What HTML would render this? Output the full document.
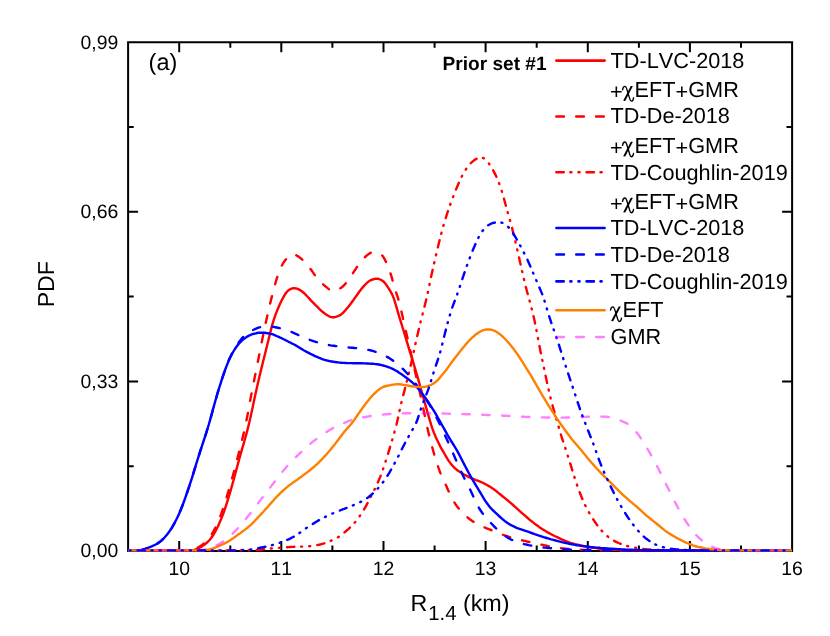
<!DOCTYPE html>
<html><head><meta charset="utf-8"><title>PDF of R1.4</title>
<style>
html,body{margin:0;padding:0;background:#fff;}
#c{position:relative;width:830px;height:636px;overflow:hidden;background:#fff;font-family:"Liberation Sans",sans-serif;color:#000;}
</style></head><body><div id="c">
<svg width="830" height="636" viewBox="0 0 830 636" style="position:absolute;left:0;top:0;will-change:transform">
<g stroke="#000" stroke-width="2" fill="none" stroke-linecap="butt">
<rect x="128.1" y="42.25" width="664.0" height="508.75"/>
<path d="M179.2,551.0 v-10 M179.2,42.25 v10 M230.3,551.0 v-5.6 M230.3,42.25 v5.6 M281.3,551.0 v-10 M281.3,42.25 v10 M332.4,551.0 v-5.6 M332.4,42.25 v5.6 M383.5,551.0 v-10 M383.5,42.25 v10 M434.6,551.0 v-5.6 M434.6,42.25 v5.6 M485.6,551.0 v-10 M485.6,42.25 v10 M536.7,551.0 v-5.6 M536.7,42.25 v5.6 M587.8,551.0 v-10 M587.8,42.25 v10 M638.9,551.0 v-5.6 M638.9,42.25 v5.6 M689.9,551.0 v-10 M689.9,42.25 v10 M741.0,551.0 v-5.6 M741.0,42.25 v5.6 M128.1,466.2 h5.6 M792.1,466.2 h-5.6 M128.1,381.4 h10 M792.1,381.4 h-10 M128.1,296.6 h5.6 M792.1,296.6 h-5.6 M128.1,211.8 h10 M792.1,211.8 h-10 M128.1,127.0 h5.6 M792.1,127.0 h-5.6"/>
</g>
<clipPath id="cp"><rect x="128.0" y="0" width="664.2" height="553.0"/></clipPath>
<g fill="none" stroke-linejoin="round" clip-path="url(#cp)">
<path d="M128.1,550.4 L129.6,550.4 L131.1,550.4 L132.6,550.4 L134.1,550.4 L135.6,550.4 L137.1,550.4 L138.6,550.4 L140.1,550.4 L141.6,550.4 L143.1,550.4 L144.6,550.4 L146.1,550.4 L147.6,550.4 L149.1,550.4 L150.6,550.4 L152.1,550.4 L153.6,550.4 L155.1,550.4 L156.6,550.4 L158.1,550.4 L159.6,550.4 L161.1,550.4 L162.6,550.4 L164.1,550.4 L165.6,550.4 L167.1,550.4 L168.6,550.4 L170.1,550.4 L171.6,550.4 L173.1,550.4 L174.6,550.4 L176.1,550.4 L177.6,550.4 L179.1,550.4 L180.6,550.4 L182.1,550.4 L183.6,550.4 L185.1,550.4 L186.6,550.4 L188.1,550.4 L189.6,550.3 L191.1,550.3 L192.6,550.2 L194.1,550.0 L195.6,549.5 L197.1,548.9 L198.6,548.2 L200.1,547.4 L201.6,546.6 L203.1,545.6 L204.6,544.5 L206.1,543.3 L207.6,542.0 L209.1,540.5 L210.6,538.8 L212.1,536.8 L213.6,534.5 L215.1,531.9 L216.6,529.0 L218.1,525.9 L219.6,522.6 L221.1,519.1 L222.6,515.4 L224.1,511.3 L225.6,506.8 L227.1,502.1 L228.6,497.3 L230.1,492.3 L231.6,487.2 L233.1,481.8 L234.6,476.3 L236.1,470.7 L237.6,465.1 L239.1,459.5 L240.6,454.1 L242.1,448.9 L243.6,443.8 L245.1,438.5 L246.6,433.1 L248.1,427.4 L249.6,421.2 L251.1,414.5 L252.6,407.4 L254.1,400.3 L255.6,393.4 L257.1,386.7 L258.6,380.2 L260.1,373.8 L261.6,367.6 L263.1,361.5 L264.6,355.5 L266.1,349.5 L267.6,343.5 L269.1,337.2 L270.6,331.1 L272.1,325.4 L273.6,320.3 L275.1,315.9 L276.6,311.9 L278.1,308.2 L279.6,304.7 L281.1,301.5 L282.6,298.6 L284.1,295.9 L285.6,293.5 L287.1,291.6 L288.6,290.2 L290.1,289.3 L291.6,288.6 L293.1,288.2 L294.6,288.2 L296.1,288.4 L297.6,288.9 L299.1,289.6 L300.6,290.4 L302.1,291.5 L303.6,292.7 L305.1,294.1 L306.6,295.7 L308.1,297.3 L309.6,298.9 L311.1,300.6 L312.6,302.2 L314.1,303.7 L315.6,305.2 L317.1,306.6 L318.6,308.1 L320.1,309.6 L321.6,311.0 L323.1,312.3 L324.6,313.5 L326.1,314.5 L327.6,315.5 L329.1,316.3 L330.6,316.9 L332.1,317.2 L333.6,317.3 L335.1,317.0 L336.6,316.6 L338.1,316.0 L339.6,315.4 L341.1,314.4 L342.6,313.2 L344.1,311.6 L345.6,310.0 L347.1,308.2 L348.6,306.4 L350.1,304.5 L351.6,302.5 L353.1,300.5 L354.6,298.4 L356.1,296.3 L357.6,294.2 L359.1,292.0 L360.6,290.0 L362.1,288.1 L363.6,286.4 L365.1,284.8 L366.6,283.2 L368.1,281.9 L369.6,280.8 L371.1,280.0 L372.6,279.5 L374.1,279.1 L375.6,278.8 L377.1,278.7 L378.6,278.9 L380.1,279.5 L381.6,280.2 L383.1,281.2 L384.6,282.7 L386.1,284.6 L387.6,286.8 L389.1,289.2 L390.6,291.6 L392.1,294.4 L393.6,297.9 L395.1,302.5 L396.6,307.6 L398.1,312.8 L399.6,317.8 L401.1,322.7 L402.6,327.5 L404.1,332.4 L405.6,337.3 L407.1,342.3 L408.6,347.3 L410.1,352.3 L411.6,357.2 L413.1,362.1 L414.6,367.0 L416.1,372.1 L417.6,377.2 L419.1,382.4 L420.6,387.8 L422.1,393.2 L423.6,398.6 L425.1,403.9 L426.6,409.1 L428.1,414.4 L429.6,419.7 L431.1,424.7 L432.6,429.2 L434.1,433.1 L435.6,436.7 L437.1,440.0 L438.6,443.1 L440.1,446.1 L441.6,448.8 L443.1,451.4 L444.6,454.0 L446.1,456.6 L447.6,459.1 L449.1,461.4 L450.6,463.4 L452.1,465.3 L453.6,466.9 L455.1,468.4 L456.6,469.7 L458.1,470.8 L459.6,471.7 L461.1,472.7 L462.6,473.6 L464.1,474.5 L465.6,475.3 L467.1,476.1 L468.6,476.9 L470.1,477.7 L471.6,478.3 L473.1,479.0 L474.6,479.5 L476.1,480.1 L477.6,480.6 L479.1,481.2 L480.6,481.8 L482.1,482.5 L483.6,483.2 L485.1,484.0 L486.6,484.8 L488.1,485.6 L489.6,486.5 L491.1,487.4 L492.6,488.4 L494.1,489.5 L495.6,490.6 L497.1,491.8 L498.6,493.1 L500.1,494.3 L501.6,495.5 L503.1,496.7 L504.6,497.9 L506.1,499.1 L507.6,500.3 L509.1,501.6 L510.6,502.9 L512.1,504.2 L513.6,505.5 L515.1,506.9 L516.6,508.2 L518.1,509.6 L519.6,510.9 L521.1,512.3 L522.6,513.6 L524.1,514.9 L525.6,516.2 L527.1,517.5 L528.6,518.8 L530.1,520.1 L531.6,521.3 L533.1,522.4 L534.6,523.6 L536.1,524.7 L537.6,525.8 L539.1,526.9 L540.6,527.9 L542.1,528.9 L543.6,529.9 L545.1,530.8 L546.6,531.7 L548.1,532.6 L549.6,533.4 L551.1,534.2 L552.6,535.0 L554.1,535.8 L555.6,536.5 L557.1,537.2 L558.6,537.9 L560.1,538.6 L561.6,539.3 L563.1,539.9 L564.6,540.6 L566.1,541.2 L567.6,541.8 L569.1,542.4 L570.6,542.9 L572.1,543.3 L573.6,543.7 L575.1,544.1 L576.6,544.4 L578.1,544.8 L579.6,545.1 L581.1,545.4 L582.6,545.8 L584.1,546.1 L585.6,546.4 L587.1,546.7 L588.6,547.0 L590.1,547.2 L591.6,547.5 L593.1,547.7 L594.6,547.9 L596.1,548.1 L597.6,548.3 L599.1,548.5 L600.6,548.7 L602.1,548.8 L603.6,549.0 L605.1,549.1 L606.6,549.3 L608.1,549.4 L609.6,549.5 L611.1,549.6 L612.6,549.7 L614.1,549.8 L615.6,549.9 L617.1,549.9 L618.6,550.0 L620.1,550.1 L621.6,550.2 L623.1,550.2 L624.6,550.3 L626.1,550.3 L627.6,550.4 L629.1,550.4 L630.6,550.4 L632.1,550.4 L633.6,550.4 L635.1,550.4 L636.6,550.4 L638.1,550.4 L639.6,550.4 L641.1,550.4 L642.6,550.4 L644.1,550.4 L645.6,550.4 L647.1,550.4 L648.6,550.4 L650.1,550.4 L651.6,550.4 L653.1,550.4 L654.6,550.4 L656.1,550.4 L657.6,550.4 L659.1,550.4 L660.6,550.4 L662.1,550.4 L663.6,550.4 L665.1,550.4 L666.6,550.4 L668.1,550.4 L669.6,550.4 L671.1,550.4 L672.6,550.4 L674.1,550.4 L675.6,550.4 L677.1,550.4 L678.6,550.4 L680.1,550.4 L681.6,550.4 L683.1,550.4 L684.6,550.4 L686.1,550.4 L687.6,550.4 L689.1,550.4 L690.6,550.4 L692.1,550.4 L693.6,550.4 L695.1,550.4 L696.6,550.4 L698.1,550.4 L699.6,550.4 L701.1,550.4 L702.6,550.4 L704.1,550.4 L705.6,550.4 L707.1,550.4 L708.6,550.4 L710.1,550.4 L711.6,550.4 L713.1,550.4 L714.6,550.4 L716.1,550.4 L717.6,550.4 L719.1,550.4 L720.6,550.4 L722.1,550.4 L723.6,550.4 L725.1,550.4 L726.6,550.4 L728.1,550.4 L729.6,550.4 L731.1,550.4 L732.6,550.4 L734.1,550.4 L735.6,550.4 L737.1,550.4 L738.6,550.4 L740.1,550.4 L741.6,550.4 L743.1,550.4 L744.6,550.4 L746.1,550.4 L747.6,550.4 L749.1,550.4 L750.6,550.4 L752.1,550.4 L753.6,550.4 L755.1,550.4 L756.6,550.4 L758.1,550.4 L759.6,550.4 L761.1,550.4 L762.6,550.4 L764.1,550.4 L765.6,550.4 L767.1,550.4 L768.6,550.4 L770.1,550.4 L771.6,550.4 L773.1,550.4 L774.6,550.4 L776.1,550.4 L777.6,550.4 L779.1,550.4 L780.6,550.4 L782.1,550.4 L783.6,550.4 L785.1,550.4 L786.6,550.4 L788.1,550.4 L789.6,550.4 L791.1,550.4" stroke="#ff0000" stroke-width="2.4" stroke-linecap="round"/>
<path d="M128.1,550.4 L129.6,550.4 L131.1,550.4 L132.6,550.4 L134.1,550.4 L135.6,550.4 L137.1,550.4 L138.6,550.4 L140.1,550.4 L141.6,550.4 L143.1,550.4 L144.6,550.4 L146.1,550.4 L147.6,550.4 L149.1,550.4 L150.6,550.4 L152.1,550.4 L153.6,550.4 L155.1,550.4 L156.6,550.4 L158.1,550.4 L159.6,550.4 L161.1,550.4 L162.6,550.4 L164.1,550.4 L165.6,550.4 L167.1,550.4 L168.6,550.4 L170.1,550.4 L171.6,550.4 L173.1,550.4 L174.6,550.4 L176.1,550.4 L177.6,550.4 L179.1,550.4 L180.6,550.4 L182.1,550.4 L183.6,550.4 L185.1,550.4 L186.6,550.4 L188.1,550.3 L189.6,550.3 L191.1,550.1 L192.6,549.8 L194.1,549.4 L195.6,548.7 L197.1,548.0 L198.6,547.1 L200.1,546.3 L201.6,545.3 L203.1,544.1 L204.6,542.9 L206.1,541.5 L207.6,539.9 L209.1,538.2 L210.6,536.1 L212.1,533.7 L213.6,531.0 L215.1,528.0 L216.6,524.8 L218.1,521.5 L219.6,517.9 L221.1,514.1 L222.6,509.8 L224.1,505.3 L225.6,500.5 L227.1,495.6 L228.6,490.6 L230.1,485.5 L231.6,480.2 L233.1,474.7 L234.6,469.1 L236.1,463.4 L237.6,457.6 L239.1,451.8 L240.6,445.9 L242.1,439.9 L243.6,433.6 L245.1,427.0 L246.6,419.7 L248.1,411.9 L249.6,403.7 L251.1,395.6 L252.6,387.9 L254.1,380.4 L255.6,372.9 L257.1,365.5 L258.6,357.9 L260.1,350.4 L261.6,342.9 L263.1,335.6 L264.6,328.3 L266.1,321.2 L267.6,314.3 L269.1,307.7 L270.6,301.6 L272.1,295.6 L273.6,289.8 L275.1,284.3 L276.6,279.2 L278.1,274.6 L279.6,270.5 L281.1,267.0 L282.6,264.2 L284.1,261.7 L285.6,259.7 L287.1,258.0 L288.6,256.6 L290.1,255.4 L291.6,254.5 L293.1,254.2 L294.6,254.5 L296.1,255.2 L297.6,256.1 L299.1,257.1 L300.6,258.2 L302.1,259.5 L303.6,261.0 L305.1,262.6 L306.6,264.2 L308.1,266.0 L309.6,267.8 L311.1,269.8 L312.6,271.9 L314.1,274.1 L315.6,276.2 L317.1,278.1 L318.6,279.8 L320.1,281.4 L321.6,282.9 L323.1,284.4 L324.6,285.7 L326.1,286.9 L327.6,288.1 L329.1,289.3 L330.6,290.2 L332.1,290.7 L333.6,290.8 L335.1,290.6 L336.6,290.2 L338.1,289.5 L339.6,288.7 L341.1,287.8 L342.6,286.7 L344.1,285.2 L345.6,283.4 L347.1,281.5 L348.6,279.5 L350.1,277.4 L351.6,275.2 L353.1,272.9 L354.6,270.6 L356.1,268.3 L357.6,266.2 L359.1,264.1 L360.6,262.1 L362.1,260.1 L363.6,258.4 L365.1,257.0 L366.6,255.6 L368.1,254.4 L369.6,253.4 L371.1,252.6 L372.6,252.2 L374.1,252.1 L375.6,252.3 L377.1,252.6 L378.6,253.1 L380.1,253.7 L381.6,254.7 L383.1,256.5 L384.6,259.1 L386.1,262.1 L387.6,265.5 L389.1,269.3 L390.6,273.7 L392.1,278.7 L393.6,284.2 L395.1,289.4 L396.6,293.8 L398.1,298.4 L399.6,304.0 L401.1,310.2 L402.6,316.6 L404.1,323.1 L405.6,329.8 L407.1,336.4 L408.6,343.0 L410.1,349.6 L411.6,356.2 L413.1,362.8 L414.6,369.4 L416.1,376.0 L417.6,382.6 L419.1,389.1 L420.6,395.7 L422.1,402.7 L423.6,410.0 L425.1,417.2 L426.6,424.3 L428.1,431.0 L429.6,437.3 L431.1,443.2 L432.6,448.7 L434.1,454.0 L435.6,458.9 L437.1,463.7 L438.6,468.2 L440.1,472.3 L441.6,475.9 L443.1,479.2 L444.6,482.3 L446.1,485.6 L447.6,489.0 L449.1,492.3 L450.6,495.5 L452.1,498.5 L453.6,501.2 L455.1,503.6 L456.6,505.8 L458.1,507.7 L459.6,509.5 L461.1,511.2 L462.6,512.8 L464.1,514.3 L465.6,515.7 L467.1,517.0 L468.6,518.3 L470.1,519.5 L471.6,520.5 L473.1,521.6 L474.6,522.5 L476.1,523.4 L477.6,524.2 L479.1,525.0 L480.6,525.8 L482.1,526.5 L483.6,527.1 L485.1,527.7 L486.6,528.3 L488.1,528.9 L489.6,529.5 L491.1,530.0 L492.6,530.7 L494.1,531.3 L495.6,531.9 L497.1,532.5 L498.6,533.1 L500.1,533.7 L501.6,534.2 L503.1,534.8 L504.6,535.3 L506.1,535.8 L507.6,536.3 L509.1,536.8 L510.6,537.3 L512.1,537.7 L513.6,538.1 L515.1,538.5 L516.6,538.9 L518.1,539.3 L519.6,539.7 L521.1,540.0 L522.6,540.4 L524.1,540.8 L525.6,541.1 L527.1,541.5 L528.6,541.8 L530.1,542.2 L531.6,542.5 L533.1,542.9 L534.6,543.2 L536.1,543.6 L537.6,543.9 L539.1,544.2 L540.6,544.5 L542.1,544.8 L543.6,545.1 L545.1,545.4 L546.6,545.7 L548.1,546.1 L549.6,546.4 L551.1,546.6 L552.6,546.9 L554.1,547.2 L555.6,547.4 L557.1,547.7 L558.6,547.9 L560.1,548.1 L561.6,548.3 L563.1,548.4 L564.6,548.6 L566.1,548.7 L567.6,548.9 L569.1,549.0 L570.6,549.1 L572.1,549.3 L573.6,549.4 L575.1,549.5 L576.6,549.6 L578.1,549.7 L579.6,549.7 L581.1,549.8 L582.6,549.9 L584.1,549.9 L585.6,550.0 L587.1,550.0 L588.6,550.1 L590.1,550.1 L591.6,550.1 L593.1,550.2 L594.6,550.2 L596.1,550.2 L597.6,550.3 L599.1,550.3 L600.6,550.3 L602.1,550.3 L603.6,550.3 L605.1,550.3 L606.6,550.3 L608.1,550.3 L609.6,550.3 L611.1,550.3 L612.6,550.3 L614.1,550.3 L615.6,550.4 L617.1,550.4 L618.6,550.4 L620.1,550.4 L621.6,550.4 L623.1,550.4 L624.6,550.4 L626.1,550.4 L627.6,550.4 L629.1,550.4 L630.6,550.4 L632.1,550.4 L633.6,550.4 L635.1,550.4 L636.6,550.4 L638.1,550.4 L639.6,550.4 L641.1,550.4 L642.6,550.4 L644.1,550.4 L645.6,550.4 L647.1,550.4 L648.6,550.4 L650.1,550.4 L651.6,550.4 L653.1,550.4 L654.6,550.4 L656.1,550.4 L657.6,550.4 L659.1,550.4 L660.6,550.4 L662.1,550.4 L663.6,550.4 L665.1,550.4 L666.6,550.4 L668.1,550.4 L669.6,550.4 L671.1,550.4 L672.6,550.4 L674.1,550.4 L675.6,550.4 L677.1,550.4 L678.6,550.4 L680.1,550.4 L681.6,550.4 L683.1,550.4 L684.6,550.4 L686.1,550.4 L687.6,550.4 L689.1,550.4 L690.6,550.4 L692.1,550.4 L693.6,550.4 L695.1,550.4 L696.6,550.4 L698.1,550.4 L699.6,550.4 L701.1,550.4 L702.6,550.4 L704.1,550.4 L705.6,550.4 L707.1,550.4 L708.6,550.4 L710.1,550.4 L711.6,550.4 L713.1,550.4 L714.6,550.4 L716.1,550.4 L717.6,550.4 L719.1,550.4 L720.6,550.4 L722.1,550.4 L723.6,550.4 L725.1,550.4 L726.6,550.4 L728.1,550.4 L729.6,550.4 L731.1,550.4 L732.6,550.4 L734.1,550.4 L735.6,550.4 L737.1,550.4 L738.6,550.4 L740.1,550.4 L741.6,550.4 L743.1,550.4 L744.6,550.4 L746.1,550.4 L747.6,550.4 L749.1,550.4 L750.6,550.4 L752.1,550.4 L753.6,550.4 L755.1,550.4 L756.6,550.4 L758.1,550.4 L759.6,550.4 L761.1,550.4 L762.6,550.4 L764.1,550.4 L765.6,550.4 L767.1,550.4 L768.6,550.4 L770.1,550.4 L771.6,550.4 L773.1,550.4 L774.6,550.4 L776.1,550.4 L777.6,550.4 L779.1,550.4 L780.6,550.4 L782.1,550.4 L783.6,550.4 L785.1,550.4 L786.6,550.4 L788.1,550.4 L789.6,550.4 L791.1,550.4" stroke="#ff0000" stroke-width="2.4" stroke-dasharray="7.55 12.33" stroke-dashoffset="9.5" stroke-linecap="round"/>
<path d="M128.1,550.4 L129.6,550.4 L131.1,550.4 L132.6,550.4 L134.1,550.4 L135.6,550.4 L137.1,550.4 L138.6,550.4 L140.1,550.4 L141.6,550.4 L143.1,550.4 L144.6,550.4 L146.1,550.4 L147.6,550.4 L149.1,550.4 L150.6,550.4 L152.1,550.4 L153.6,550.4 L155.1,550.4 L156.6,550.4 L158.1,550.4 L159.6,550.4 L161.1,550.4 L162.6,550.4 L164.1,550.4 L165.6,550.4 L167.1,550.4 L168.6,550.4 L170.1,550.4 L171.6,550.4 L173.1,550.4 L174.6,550.4 L176.1,550.4 L177.6,550.4 L179.1,550.4 L180.6,550.4 L182.1,550.4 L183.6,550.4 L185.1,550.4 L186.6,550.4 L188.1,550.4 L189.6,550.4 L191.1,550.4 L192.6,550.4 L194.1,550.4 L195.6,550.4 L197.1,550.4 L198.6,550.4 L200.1,550.4 L201.6,550.4 L203.1,550.4 L204.6,550.4 L206.1,550.4 L207.6,550.4 L209.1,550.4 L210.6,550.4 L212.1,550.4 L213.6,550.4 L215.1,550.4 L216.6,550.4 L218.1,550.4 L219.6,550.4 L221.1,550.4 L222.6,550.4 L224.1,550.4 L225.6,550.4 L227.1,550.4 L228.6,550.4 L230.1,550.4 L231.6,550.4 L233.1,550.4 L234.6,550.4 L236.1,550.4 L237.6,550.4 L239.1,550.4 L240.6,550.4 L242.1,550.4 L243.6,550.4 L245.1,550.3 L246.6,550.3 L248.1,550.3 L249.6,550.3 L251.1,550.3 L252.6,550.3 L254.1,550.2 L255.6,550.1 L257.1,550.0 L258.6,549.8 L260.1,549.7 L261.6,549.5 L263.1,549.3 L264.6,549.2 L266.1,549.0 L267.6,548.8 L269.1,548.7 L270.6,548.5 L272.1,548.4 L273.6,548.3 L275.1,548.1 L276.6,548.0 L278.1,547.9 L279.6,547.8 L281.1,547.6 L282.6,547.5 L284.1,547.4 L285.6,547.3 L287.1,547.2 L288.6,547.1 L290.1,547.0 L291.6,546.9 L293.1,546.9 L294.6,546.8 L296.1,546.8 L297.6,546.7 L299.1,546.7 L300.6,546.6 L302.1,546.6 L303.6,546.5 L305.1,546.5 L306.6,546.4 L308.1,546.3 L309.6,546.2 L311.1,546.0 L312.6,545.8 L314.1,545.6 L315.6,545.4 L317.1,545.1 L318.6,544.8 L320.1,544.5 L321.6,544.1 L323.1,543.7 L324.6,543.2 L326.1,542.7 L327.6,542.1 L329.1,541.5 L330.6,540.9 L332.1,540.2 L333.6,539.6 L335.1,538.9 L336.6,538.1 L338.1,537.2 L339.6,536.2 L341.1,535.2 L342.6,534.0 L344.1,532.8 L345.6,531.5 L347.1,530.1 L348.6,528.8 L350.1,527.4 L351.6,525.9 L353.1,524.4 L354.6,522.7 L356.1,521.0 L357.6,519.0 L359.1,517.0 L360.6,514.8 L362.1,512.5 L363.6,510.1 L365.1,507.6 L366.6,504.9 L368.1,502.1 L369.6,499.1 L371.1,496.1 L372.6,493.2 L374.1,490.4 L375.6,487.4 L377.1,484.1 L378.6,480.6 L380.1,477.1 L381.6,473.2 L383.1,469.0 L384.6,464.5 L386.1,459.8 L387.6,455.1 L389.1,450.3 L390.6,445.3 L392.1,440.3 L393.6,435.2 L395.1,429.9 L396.6,424.2 L398.1,417.6 L399.6,410.4 L401.1,403.7 L402.6,397.7 L404.1,392.0 L405.6,386.2 L407.1,380.4 L408.6,374.4 L410.1,368.1 L411.6,361.4 L413.1,354.6 L414.6,347.8 L416.1,341.0 L417.6,334.4 L419.1,327.9 L420.6,321.7 L422.1,315.8 L423.6,310.0 L425.1,304.2 L426.6,298.0 L428.1,291.1 L429.6,283.9 L431.1,276.7 L432.6,269.9 L434.1,263.3 L435.6,256.9 L437.1,250.6 L438.6,244.3 L440.1,238.2 L441.6,232.3 L443.1,226.8 L444.6,221.6 L446.1,216.8 L447.6,212.2 L449.1,207.8 L450.6,203.5 L452.1,199.5 L453.6,195.6 L455.1,191.8 L456.6,188.1 L458.1,184.5 L459.6,181.1 L461.1,177.9 L462.6,175.0 L464.1,172.2 L465.6,169.8 L467.1,167.6 L468.6,165.6 L470.1,163.9 L471.6,162.4 L473.1,161.1 L474.6,159.9 L476.1,159.0 L477.6,158.3 L479.1,157.7 L480.6,157.4 L482.1,157.6 L483.6,158.2 L485.1,159.2 L486.6,160.6 L488.1,162.4 L489.6,164.5 L491.1,166.8 L492.6,169.3 L494.1,172.1 L495.6,175.1 L497.1,178.4 L498.6,182.0 L500.1,186.1 L501.6,190.6 L503.1,195.7 L504.6,201.0 L506.1,206.6 L507.6,212.1 L509.1,217.3 L510.6,222.5 L512.1,228.1 L513.6,234.1 L515.1,240.3 L516.6,246.8 L518.1,253.4 L519.6,260.1 L521.1,266.8 L522.6,273.5 L524.1,279.9 L525.6,286.0 L527.1,291.8 L528.6,297.4 L530.1,302.8 L531.6,308.3 L533.1,314.2 L534.6,321.0 L536.1,328.5 L537.6,336.4 L539.1,344.3 L540.6,351.9 L542.1,359.2 L543.6,366.4 L545.1,373.5 L546.6,380.5 L548.1,387.4 L549.6,394.0 L551.1,400.2 L552.6,405.8 L554.1,411.1 L555.6,416.2 L557.1,421.4 L558.6,426.7 L560.1,431.9 L561.6,436.8 L563.1,441.3 L564.6,445.9 L566.1,450.5 L567.6,455.2 L569.1,459.9 L570.6,464.7 L572.1,469.6 L573.6,474.4 L575.1,479.2 L576.6,483.7 L578.1,488.0 L579.6,492.1 L581.1,495.9 L582.6,499.6 L584.1,503.0 L585.6,506.1 L587.1,509.0 L588.6,511.8 L590.1,514.3 L591.6,516.8 L593.1,519.1 L594.6,521.4 L596.1,523.6 L597.6,525.7 L599.1,527.7 L600.6,529.5 L602.1,531.2 L603.6,532.7 L605.1,534.2 L606.6,535.6 L608.1,536.8 L609.6,538.0 L611.1,539.0 L612.6,540.0 L614.1,540.8 L615.6,541.6 L617.1,542.3 L618.6,543.0 L620.1,543.6 L621.6,544.2 L623.1,544.8 L624.6,545.3 L626.1,545.7 L627.6,546.1 L629.1,546.5 L630.6,546.8 L632.1,547.1 L633.6,547.4 L635.1,547.7 L636.6,547.9 L638.1,548.2 L639.6,548.4 L641.1,548.6 L642.6,548.8 L644.1,549.0 L645.6,549.1 L647.1,549.3 L648.6,549.4 L650.1,549.5 L651.6,549.6 L653.1,549.7 L654.6,549.8 L656.1,549.9 L657.6,550.0 L659.1,550.1 L660.6,550.1 L662.1,550.2 L663.6,550.3 L665.1,550.3 L666.6,550.3 L668.1,550.4 L669.6,550.4 L671.1,550.4 L672.6,550.4 L674.1,550.4 L675.6,550.4 L677.1,550.4 L678.6,550.4 L680.1,550.4 L681.6,550.4 L683.1,550.4 L684.6,550.4 L686.1,550.4 L687.6,550.4 L689.1,550.4 L690.6,550.4 L692.1,550.4 L693.6,550.4 L695.1,550.4 L696.6,550.4 L698.1,550.4 L699.6,550.4 L701.1,550.4 L702.6,550.4 L704.1,550.4 L705.6,550.4 L707.1,550.4 L708.6,550.4 L710.1,550.4 L711.6,550.4 L713.1,550.4 L714.6,550.4 L716.1,550.4 L717.6,550.4 L719.1,550.4 L720.6,550.4 L722.1,550.4 L723.6,550.4 L725.1,550.4 L726.6,550.4 L728.1,550.4 L729.6,550.4 L731.1,550.4 L732.6,550.4 L734.1,550.4 L735.6,550.4 L737.1,550.4 L738.6,550.4 L740.1,550.4 L741.6,550.4 L743.1,550.4 L744.6,550.4 L746.1,550.4 L747.6,550.4 L749.1,550.4 L750.6,550.4 L752.1,550.4 L753.6,550.4 L755.1,550.4 L756.6,550.4 L758.1,550.4 L759.6,550.4 L761.1,550.4 L762.6,550.4 L764.1,550.4 L765.6,550.4 L767.1,550.4 L768.6,550.4 L770.1,550.4 L771.6,550.4 L773.1,550.4 L774.6,550.4 L776.1,550.4 L777.6,550.4 L779.1,550.4 L780.6,550.4 L782.1,550.4 L783.6,550.4 L785.1,550.4 L786.6,550.4 L788.1,550.4 L789.6,550.4 L791.1,550.4" stroke="#ff0000" stroke-width="2.4" stroke-dasharray="7.34 6.73 1.00 7.14 1.00 7.14" stroke-dashoffset="23.0" stroke-linecap="round"/>
<path d="M128.1,550.4 L129.6,550.4 L131.1,550.4 L132.6,550.4 L134.1,550.4 L135.6,550.4 L137.1,550.3 L138.6,550.2 L140.1,550.1 L141.6,549.9 L143.1,549.5 L144.6,549.1 L146.1,548.5 L147.6,548.0 L149.1,547.4 L150.6,546.8 L152.1,546.2 L153.6,545.5 L155.1,544.8 L156.6,544.0 L158.1,543.1 L159.6,542.1 L161.1,540.9 L162.6,539.5 L164.1,538.0 L165.6,536.3 L167.1,534.4 L168.6,532.5 L170.1,530.4 L171.6,528.1 L173.1,525.6 L174.6,522.9 L176.1,520.0 L177.6,516.9 L179.1,513.7 L180.6,510.2 L182.1,506.5 L183.6,502.5 L185.1,498.3 L186.6,494.0 L188.1,489.6 L189.6,485.2 L191.1,480.6 L192.6,475.8 L194.1,470.9 L195.6,466.0 L197.1,461.1 L198.6,456.3 L200.1,451.6 L201.6,447.0 L203.1,442.5 L204.6,437.9 L206.1,433.3 L207.6,428.5 L209.1,423.5 L210.6,418.2 L212.1,412.7 L213.6,407.1 L215.1,401.7 L216.6,396.5 L218.1,391.4 L219.6,386.5 L221.1,381.8 L222.6,377.2 L224.1,372.8 L225.6,368.5 L227.1,364.6 L228.6,361.0 L230.1,357.8 L231.6,354.8 L233.1,352.0 L234.6,349.5 L236.1,347.3 L237.6,345.3 L239.1,343.5 L240.6,341.9 L242.1,340.4 L243.6,339.1 L245.1,338.0 L246.6,337.0 L248.1,336.1 L249.6,335.3 L251.1,334.7 L252.6,334.2 L254.1,333.7 L255.6,333.4 L257.1,333.0 L258.6,332.8 L260.1,332.7 L261.6,332.6 L263.1,332.7 L264.6,332.8 L266.1,333.0 L267.6,333.2 L269.1,333.4 L270.6,333.8 L272.1,334.2 L273.6,334.7 L275.1,335.3 L276.6,336.0 L278.1,336.6 L279.6,337.3 L281.1,338.0 L282.6,338.7 L284.1,339.5 L285.6,340.2 L287.1,341.0 L288.6,341.8 L290.1,342.5 L291.6,343.3 L293.1,344.0 L294.6,344.8 L296.1,345.6 L297.6,346.5 L299.1,347.4 L300.6,348.4 L302.1,349.3 L303.6,350.2 L305.1,351.0 L306.6,351.9 L308.1,352.6 L309.6,353.4 L311.1,354.2 L312.6,354.9 L314.1,355.6 L315.6,356.3 L317.1,356.9 L318.6,357.6 L320.1,358.2 L321.6,358.8 L323.1,359.4 L324.6,359.9 L326.1,360.3 L327.6,360.6 L329.1,361.0 L330.6,361.3 L332.1,361.5 L333.6,361.8 L335.1,362.0 L336.6,362.2 L338.1,362.4 L339.6,362.6 L341.1,362.7 L342.6,362.9 L344.1,362.9 L345.6,363.0 L347.1,363.1 L348.6,363.1 L350.1,363.1 L351.6,363.1 L353.1,363.2 L354.6,363.2 L356.1,363.2 L357.6,363.2 L359.1,363.3 L360.6,363.3 L362.1,363.3 L363.6,363.4 L365.1,363.4 L366.6,363.5 L368.1,363.5 L369.6,363.6 L371.1,363.7 L372.6,363.8 L374.1,363.9 L375.6,364.1 L377.1,364.3 L378.6,364.5 L380.1,364.8 L381.6,365.1 L383.1,365.5 L384.6,365.9 L386.1,366.3 L387.6,366.8 L389.1,367.4 L390.6,368.0 L392.1,368.7 L393.6,369.4 L395.1,370.2 L396.6,371.0 L398.1,371.9 L399.6,372.9 L401.1,373.9 L402.6,375.0 L404.1,376.1 L405.6,377.2 L407.1,378.3 L408.6,379.4 L410.1,380.6 L411.6,381.9 L413.1,383.2 L414.6,384.6 L416.1,386.2 L417.6,387.9 L419.1,389.7 L420.6,391.6 L422.1,393.5 L423.6,395.5 L425.1,397.5 L426.6,399.6 L428.1,401.8 L429.6,404.1 L431.1,406.4 L432.6,408.8 L434.1,411.2 L435.6,413.7 L437.1,416.3 L438.6,419.0 L440.1,421.7 L441.6,424.3 L443.1,427.0 L444.6,429.7 L446.1,432.4 L447.6,435.0 L449.1,437.6 L450.6,440.1 L452.1,442.5 L453.6,444.9 L455.1,447.3 L456.6,449.8 L458.1,452.6 L459.6,455.4 L461.1,458.3 L462.6,461.2 L464.1,464.1 L465.6,467.0 L467.1,469.9 L468.6,472.7 L470.1,475.4 L471.6,478.0 L473.1,480.6 L474.6,483.2 L476.1,485.7 L477.6,488.1 L479.1,490.6 L480.6,493.0 L482.1,495.6 L483.6,498.2 L485.1,500.6 L486.6,502.8 L488.1,504.8 L489.6,506.7 L491.1,508.4 L492.6,510.0 L494.1,511.4 L495.6,512.8 L497.1,514.2 L498.6,515.6 L500.1,517.0 L501.6,518.3 L503.1,519.6 L504.6,520.9 L506.1,522.0 L507.6,523.0 L509.1,524.0 L510.6,524.9 L512.1,525.7 L513.6,526.4 L515.1,527.1 L516.6,527.8 L518.1,528.4 L519.6,528.9 L521.1,529.4 L522.6,529.9 L524.1,530.4 L525.6,530.9 L527.1,531.4 L528.6,531.9 L530.1,532.5 L531.6,533.0 L533.1,533.5 L534.6,534.1 L536.1,534.6 L537.6,535.1 L539.1,535.6 L540.6,536.1 L542.1,536.6 L543.6,537.1 L545.1,537.5 L546.6,538.0 L548.1,538.4 L549.6,538.8 L551.1,539.3 L552.6,539.7 L554.1,540.1 L555.6,540.5 L557.1,540.9 L558.6,541.3 L560.1,541.7 L561.6,542.1 L563.1,542.4 L564.6,542.8 L566.1,543.1 L567.6,543.4 L569.1,543.7 L570.6,544.0 L572.1,544.3 L573.6,544.6 L575.1,544.9 L576.6,545.2 L578.1,545.4 L579.6,545.6 L581.1,545.9 L582.6,546.1 L584.1,546.2 L585.6,546.4 L587.1,546.6 L588.6,546.8 L590.1,547.0 L591.6,547.1 L593.1,547.3 L594.6,547.4 L596.1,547.6 L597.6,547.7 L599.1,547.8 L600.6,548.0 L602.1,548.1 L603.6,548.2 L605.1,548.3 L606.6,548.4 L608.1,548.5 L609.6,548.6 L611.1,548.7 L612.6,548.8 L614.1,548.9 L615.6,549.0 L617.1,549.1 L618.6,549.2 L620.1,549.3 L621.6,549.4 L623.1,549.4 L624.6,549.5 L626.1,549.6 L627.6,549.6 L629.1,549.7 L630.6,549.7 L632.1,549.8 L633.6,549.9 L635.1,549.9 L636.6,550.0 L638.1,550.0 L639.6,550.1 L641.1,550.1 L642.6,550.2 L644.1,550.2 L645.6,550.2 L647.1,550.3 L648.6,550.3 L650.1,550.3 L651.6,550.3 L653.1,550.3 L654.6,550.3 L656.1,550.3 L657.6,550.3 L659.1,550.3 L660.6,550.3 L662.1,550.3 L663.6,550.3 L665.1,550.3 L666.6,550.4 L668.1,550.4 L669.6,550.4 L671.1,550.4 L672.6,550.4 L674.1,550.4 L675.6,550.4 L677.1,550.4 L678.6,550.4 L680.1,550.4 L681.6,550.4 L683.1,550.4 L684.6,550.4 L686.1,550.4 L687.6,550.4 L689.1,550.4 L690.6,550.4 L692.1,550.4 L693.6,550.4 L695.1,550.4 L696.6,550.4 L698.1,550.4 L699.6,550.4 L701.1,550.4 L702.6,550.4 L704.1,550.4 L705.6,550.4 L707.1,550.4 L708.6,550.4 L710.1,550.4 L711.6,550.4 L713.1,550.4 L714.6,550.4 L716.1,550.4 L717.6,550.4 L719.1,550.4 L720.6,550.4 L722.1,550.4 L723.6,550.4 L725.1,550.4 L726.6,550.4 L728.1,550.4 L729.6,550.4 L731.1,550.4 L732.6,550.4 L734.1,550.4 L735.6,550.4 L737.1,550.4 L738.6,550.4 L740.1,550.4 L741.6,550.4 L743.1,550.4 L744.6,550.4 L746.1,550.4 L747.6,550.4 L749.1,550.4 L750.6,550.4 L752.1,550.4 L753.6,550.4 L755.1,550.4 L756.6,550.4 L758.1,550.4 L759.6,550.4 L761.1,550.4 L762.6,550.4 L764.1,550.4 L765.6,550.4 L767.1,550.4 L768.6,550.4 L770.1,550.4 L771.6,550.4 L773.1,550.4 L774.6,550.4 L776.1,550.4 L777.6,550.4 L779.1,550.4 L780.6,550.4 L782.1,550.4 L783.6,550.4 L785.1,550.4 L786.6,550.4 L788.1,550.4 L789.6,550.4 L791.1,550.4" stroke="#0000ff" stroke-width="2.4" stroke-linecap="round"/>
<path d="M128.1,550.4 L129.6,550.4 L131.1,550.4 L132.6,550.4 L134.1,550.4 L135.6,550.4 L137.1,550.3 L138.6,550.2 L140.1,550.1 L141.6,549.9 L143.1,549.5 L144.6,549.1 L146.1,548.5 L147.6,548.0 L149.1,547.4 L150.6,546.8 L152.1,546.2 L153.6,545.5 L155.1,544.8 L156.6,544.0 L158.1,543.1 L159.6,542.1 L161.1,540.9 L162.6,539.5 L164.1,538.0 L165.6,536.3 L167.1,534.4 L168.6,532.5 L170.1,530.4 L171.6,528.1 L173.1,525.6 L174.6,522.9 L176.1,520.0 L177.6,516.9 L179.1,513.7 L180.6,510.2 L182.1,506.5 L183.6,502.5 L185.1,498.3 L186.6,494.0 L188.1,489.6 L189.6,485.2 L191.1,480.6 L192.6,475.8 L194.1,470.9 L195.6,466.0 L197.1,461.1 L198.6,456.3 L200.1,451.6 L201.6,447.0 L203.1,442.5 L204.6,437.9 L206.1,433.3 L207.6,428.5 L209.1,423.5 L210.6,418.2 L212.1,412.7 L213.6,407.1 L215.1,401.7 L216.6,396.5 L218.1,391.4 L219.6,386.5 L221.1,381.7 L222.6,377.1 L224.1,372.6 L225.6,368.3 L227.1,364.2 L228.6,360.6 L230.1,357.2 L231.6,354.2 L233.1,351.4 L234.6,348.8 L236.1,346.4 L237.6,344.1 L239.1,342.0 L240.6,339.9 L242.1,338.1 L243.6,336.4 L245.1,335.0 L246.6,333.8 L248.1,332.7 L249.6,331.8 L251.1,331.0 L252.6,330.2 L254.1,329.5 L255.6,328.8 L257.1,328.2 L258.6,327.6 L260.1,327.2 L261.6,326.9 L263.1,326.8 L264.6,326.6 L266.1,326.5 L267.6,326.4 L269.1,326.4 L270.6,326.5 L272.1,326.7 L273.6,326.9 L275.1,327.2 L276.6,327.5 L278.1,327.8 L279.6,328.1 L281.1,328.5 L282.6,328.9 L284.1,329.4 L285.6,329.8 L287.1,330.3 L288.6,330.9 L290.1,331.4 L291.6,332.0 L293.1,332.7 L294.6,333.3 L296.1,334.0 L297.6,334.7 L299.1,335.4 L300.6,336.1 L302.1,336.7 L303.6,337.4 L305.1,338.0 L306.6,338.6 L308.1,339.2 L309.6,339.8 L311.1,340.3 L312.6,340.8 L314.1,341.3 L315.6,341.8 L317.1,342.3 L318.6,342.7 L320.1,343.2 L321.6,343.6 L323.1,344.0 L324.6,344.3 L326.1,344.6 L327.6,344.9 L329.1,345.1 L330.6,345.4 L332.1,345.6 L333.6,345.8 L335.1,346.0 L336.6,346.2 L338.1,346.4 L339.6,346.6 L341.1,346.8 L342.6,346.9 L344.1,347.1 L345.6,347.2 L347.1,347.4 L348.6,347.5 L350.1,347.6 L351.6,347.7 L353.1,347.8 L354.6,348.0 L356.1,348.1 L357.6,348.3 L359.1,348.4 L360.6,348.6 L362.1,348.8 L363.6,349.0 L365.1,349.2 L366.6,349.5 L368.1,349.8 L369.6,350.1 L371.1,350.5 L372.6,350.9 L374.1,351.3 L375.6,351.8 L377.1,352.3 L378.6,352.8 L380.1,353.4 L381.6,354.0 L383.1,354.7 L384.6,355.4 L386.1,356.2 L387.6,357.1 L389.1,358.0 L390.6,359.0 L392.1,360.0 L393.6,361.1 L395.1,362.2 L396.6,363.4 L398.1,364.6 L399.6,365.9 L401.1,367.3 L402.6,368.7 L404.1,370.1 L405.6,371.7 L407.1,373.3 L408.6,374.9 L410.1,376.7 L411.6,378.5 L413.1,380.4 L414.6,382.3 L416.1,384.3 L417.6,386.4 L419.1,388.6 L420.6,390.8 L422.1,393.1 L423.6,395.4 L425.1,397.7 L426.6,400.1 L428.1,402.5 L429.6,404.9 L431.1,407.5 L432.6,410.1 L434.1,412.9 L435.6,415.8 L437.1,418.7 L438.6,421.7 L440.1,424.8 L441.6,428.0 L443.1,431.2 L444.6,434.5 L446.1,437.7 L447.6,441.0 L449.1,444.4 L450.6,447.8 L452.1,451.2 L453.6,454.6 L455.1,458.0 L456.6,461.4 L458.1,464.8 L459.6,468.2 L461.1,471.5 L462.6,474.7 L464.1,477.8 L465.6,480.8 L467.1,483.7 L468.6,486.7 L470.1,489.6 L471.6,492.7 L473.1,495.9 L474.6,499.1 L476.1,502.3 L477.6,505.3 L479.1,508.1 L480.6,510.5 L482.1,512.7 L483.6,514.6 L485.1,516.5 L486.6,518.2 L488.1,519.9 L489.6,521.6 L491.1,523.2 L492.6,524.8 L494.1,526.4 L495.6,527.9 L497.1,529.4 L498.6,530.8 L500.1,532.1 L501.6,533.3 L503.1,534.5 L504.6,535.6 L506.1,536.6 L507.6,537.6 L509.1,538.5 L510.6,539.3 L512.1,540.0 L513.6,540.7 L515.1,541.3 L516.6,541.9 L518.1,542.4 L519.6,542.9 L521.1,543.3 L522.6,543.7 L524.1,544.1 L525.6,544.4 L527.1,544.7 L528.6,545.1 L530.1,545.4 L531.6,545.7 L533.1,545.9 L534.6,546.2 L536.1,546.4 L537.6,546.7 L539.1,546.9 L540.6,547.1 L542.1,547.3 L543.6,547.5 L545.1,547.6 L546.6,547.8 L548.1,548.0 L549.6,548.1 L551.1,548.3 L552.6,548.4 L554.1,548.6 L555.6,548.7 L557.1,548.8 L558.6,548.9 L560.1,549.0 L561.6,549.1 L563.1,549.2 L564.6,549.3 L566.1,549.4 L567.6,549.5 L569.1,549.5 L570.6,549.6 L572.1,549.7 L573.6,549.8 L575.1,549.8 L576.6,549.9 L578.1,550.0 L579.6,550.0 L581.1,550.1 L582.6,550.1 L584.1,550.2 L585.6,550.2 L587.1,550.3 L588.6,550.3 L590.1,550.3 L591.6,550.3 L593.1,550.3 L594.6,550.3 L596.1,550.3 L597.6,550.3 L599.1,550.3 L600.6,550.3 L602.1,550.3 L603.6,550.3 L605.1,550.3 L606.6,550.4 L608.1,550.4 L609.6,550.4 L611.1,550.4 L612.6,550.4 L614.1,550.4 L615.6,550.4 L617.1,550.4 L618.6,550.4 L620.1,550.4 L621.6,550.4 L623.1,550.4 L624.6,550.4 L626.1,550.4 L627.6,550.4 L629.1,550.4 L630.6,550.4 L632.1,550.4 L633.6,550.4 L635.1,550.4 L636.6,550.4 L638.1,550.4 L639.6,550.4 L641.1,550.4 L642.6,550.4 L644.1,550.4 L645.6,550.4 L647.1,550.4 L648.6,550.4 L650.1,550.4 L651.6,550.4 L653.1,550.4 L654.6,550.4 L656.1,550.4 L657.6,550.4 L659.1,550.4 L660.6,550.4 L662.1,550.4 L663.6,550.4 L665.1,550.4 L666.6,550.4 L668.1,550.4 L669.6,550.4 L671.1,550.4 L672.6,550.4 L674.1,550.4 L675.6,550.4 L677.1,550.4 L678.6,550.4 L680.1,550.4 L681.6,550.4 L683.1,550.4 L684.6,550.4 L686.1,550.4 L687.6,550.4 L689.1,550.4 L690.6,550.4 L692.1,550.4 L693.6,550.4 L695.1,550.4 L696.6,550.4 L698.1,550.4 L699.6,550.4 L701.1,550.4 L702.6,550.4 L704.1,550.4 L705.6,550.4 L707.1,550.4 L708.6,550.4 L710.1,550.4 L711.6,550.4 L713.1,550.4 L714.6,550.4 L716.1,550.4 L717.6,550.4 L719.1,550.4 L720.6,550.4 L722.1,550.4 L723.6,550.4 L725.1,550.4 L726.6,550.4 L728.1,550.4 L729.6,550.4 L731.1,550.4 L732.6,550.4 L734.1,550.4 L735.6,550.4 L737.1,550.4 L738.6,550.4 L740.1,550.4 L741.6,550.4 L743.1,550.4 L744.6,550.4 L746.1,550.4 L747.6,550.4 L749.1,550.4 L750.6,550.4 L752.1,550.4 L753.6,550.4 L755.1,550.4 L756.6,550.4 L758.1,550.4 L759.6,550.4 L761.1,550.4 L762.6,550.4 L764.1,550.4 L765.6,550.4 L767.1,550.4 L768.6,550.4 L770.1,550.4 L771.6,550.4 L773.1,550.4 L774.6,550.4 L776.1,550.4 L777.6,550.4 L779.1,550.4 L780.6,550.4 L782.1,550.4 L783.6,550.4 L785.1,550.4 L786.6,550.4 L788.1,550.4 L789.6,550.4 L791.1,550.4" stroke="#0000ff" stroke-width="2.4" stroke-dasharray="7.55 12.33" stroke-dashoffset="9.2" stroke-linecap="round"/>
<path d="M128.1,550.4 L129.6,550.4 L131.1,550.4 L132.6,550.4 L134.1,550.4 L135.6,550.4 L137.1,550.4 L138.6,550.4 L140.1,550.4 L141.6,550.4 L143.1,550.4 L144.6,550.4 L146.1,550.4 L147.6,550.4 L149.1,550.4 L150.6,550.4 L152.1,550.4 L153.6,550.4 L155.1,550.4 L156.6,550.4 L158.1,550.4 L159.6,550.4 L161.1,550.4 L162.6,550.4 L164.1,550.4 L165.6,550.4 L167.1,550.4 L168.6,550.4 L170.1,550.4 L171.6,550.4 L173.1,550.4 L174.6,550.4 L176.1,550.4 L177.6,550.4 L179.1,550.4 L180.6,550.4 L182.1,550.4 L183.6,550.4 L185.1,550.4 L186.6,550.4 L188.1,550.4 L189.6,550.4 L191.1,550.4 L192.6,550.4 L194.1,550.4 L195.6,550.4 L197.1,550.4 L198.6,550.4 L200.1,550.3 L201.6,550.3 L203.1,550.2 L204.6,550.1 L206.1,549.9 L207.6,549.7 L209.1,549.5 L210.6,549.1 L212.1,548.7 L213.6,548.2 L215.1,547.6 L216.6,547.0 L218.1,546.4 L219.6,545.7 L221.1,545.1 L222.6,544.4 L224.1,543.6 L225.6,542.9 L227.1,542.1 L228.6,541.2 L230.1,540.3 L231.6,539.3 L233.1,538.3 L234.6,537.2 L236.1,536.1 L237.6,535.0 L239.1,533.9 L240.6,532.9 L242.1,531.8 L243.6,530.7 L245.1,529.6 L246.6,528.4 L248.1,527.2 L249.6,525.9 L251.1,524.6 L252.6,523.1 L254.1,521.6 L255.6,520.0 L257.1,518.4 L258.6,516.8 L260.1,515.2 L261.6,513.6 L263.1,512.0 L264.6,510.3 L266.1,508.6 L267.6,507.0 L269.1,505.3 L270.6,503.6 L272.1,501.9 L273.6,500.2 L275.1,498.5 L276.6,496.9 L278.1,495.3 L279.6,493.8 L281.1,492.4 L282.6,491.0 L284.1,489.6 L285.6,488.3 L287.1,487.1 L288.6,485.8 L290.1,484.7 L291.6,483.6 L293.1,482.5 L294.6,481.5 L296.1,480.4 L297.6,479.4 L299.1,478.3 L300.6,477.2 L302.1,476.1 L303.6,475.0 L305.1,473.9 L306.6,472.8 L308.1,471.6 L309.6,470.5 L311.1,469.3 L312.6,468.0 L314.1,466.8 L315.6,465.4 L317.1,464.1 L318.6,462.6 L320.1,461.1 L321.6,459.6 L323.1,458.0 L324.6,456.4 L326.1,454.8 L327.6,453.0 L329.1,451.3 L330.6,449.5 L332.1,447.6 L333.6,445.7 L335.1,443.9 L336.6,441.9 L338.1,440.0 L339.6,438.0 L341.1,436.0 L342.6,434.0 L344.1,432.1 L345.6,430.3 L347.1,428.6 L348.6,426.9 L350.1,425.2 L351.6,423.4 L353.1,421.5 L354.6,419.4 L356.1,417.2 L357.6,415.0 L359.1,412.9 L360.6,410.7 L362.1,408.6 L363.6,406.5 L365.1,404.5 L366.6,402.5 L368.1,400.7 L369.6,398.8 L371.1,397.1 L372.6,395.4 L374.1,393.9 L375.6,392.5 L377.1,391.1 L378.6,389.9 L380.1,388.7 L381.6,387.8 L383.1,387.0 L384.6,386.5 L386.1,386.0 L387.6,385.7 L389.1,385.4 L390.6,385.1 L392.1,384.8 L393.6,384.6 L395.1,384.4 L396.6,384.3 L398.1,384.2 L399.6,384.3 L401.1,384.5 L402.6,384.6 L404.1,384.9 L405.6,385.1 L407.1,385.4 L408.6,385.7 L410.1,386.0 L411.6,386.2 L413.1,386.5 L414.6,386.6 L416.1,386.8 L417.6,386.9 L419.1,387.0 L420.6,387.1 L422.1,387.1 L423.6,386.9 L425.1,386.7 L426.6,386.4 L428.1,386.0 L429.6,385.5 L431.1,384.8 L432.6,384.0 L434.1,383.1 L435.6,382.0 L437.1,380.6 L438.6,379.1 L440.1,377.4 L441.6,375.6 L443.1,373.8 L444.6,372.0 L446.1,370.0 L447.6,368.0 L449.1,365.9 L450.6,363.8 L452.1,361.7 L453.6,359.7 L455.1,357.8 L456.6,355.9 L458.1,354.0 L459.6,352.1 L461.1,350.1 L462.6,348.2 L464.1,346.4 L465.6,344.6 L467.1,342.9 L468.6,341.3 L470.1,339.7 L471.6,338.2 L473.1,336.8 L474.6,335.5 L476.1,334.3 L477.6,333.2 L479.1,332.2 L480.6,331.4 L482.1,330.7 L483.6,330.1 L485.1,329.7 L486.6,329.5 L488.1,329.4 L489.6,329.5 L491.1,329.7 L492.6,330.1 L494.1,330.6 L495.6,331.3 L497.1,332.2 L498.6,333.2 L500.1,334.4 L501.6,335.7 L503.1,337.0 L504.6,338.5 L506.1,340.0 L507.6,341.7 L509.1,343.4 L510.6,345.2 L512.1,347.1 L513.6,349.0 L515.1,351.0 L516.6,353.1 L518.1,355.3 L519.6,357.5 L521.1,359.8 L522.6,362.2 L524.1,364.7 L525.6,367.1 L527.1,369.4 L528.6,371.8 L530.1,374.2 L531.6,376.7 L533.1,379.3 L534.6,381.9 L536.1,384.5 L537.6,387.1 L539.1,389.7 L540.6,392.3 L542.1,394.8 L543.6,397.3 L545.1,399.8 L546.6,402.3 L548.1,404.8 L549.6,407.2 L551.1,409.6 L552.6,411.9 L554.1,414.2 L555.6,416.5 L557.1,418.8 L558.6,421.0 L560.1,423.1 L561.6,425.3 L563.1,427.4 L564.6,429.5 L566.1,431.5 L567.6,433.5 L569.1,435.5 L570.6,437.5 L572.1,439.4 L573.6,441.2 L575.1,443.0 L576.6,444.8 L578.1,446.6 L579.6,448.3 L581.1,450.1 L582.6,451.9 L584.1,453.8 L585.6,455.6 L587.1,457.4 L588.6,459.2 L590.1,460.9 L591.6,462.7 L593.1,464.4 L594.6,466.1 L596.1,467.7 L597.6,469.4 L599.1,471.0 L600.6,472.6 L602.1,474.1 L603.6,475.7 L605.1,477.2 L606.6,478.6 L608.1,480.1 L609.6,481.6 L611.1,483.1 L612.6,484.6 L614.1,486.1 L615.6,487.7 L617.1,489.2 L618.6,490.7 L620.1,492.1 L621.6,493.6 L623.1,495.0 L624.6,496.3 L626.1,497.7 L627.6,499.0 L629.1,500.3 L630.6,501.6 L632.1,502.8 L633.6,504.1 L635.1,505.4 L636.6,506.7 L638.1,508.0 L639.6,509.3 L641.1,510.7 L642.6,512.1 L644.1,513.4 L645.6,514.8 L647.1,516.1 L648.6,517.3 L650.1,518.5 L651.6,519.7 L653.1,520.9 L654.6,522.1 L656.1,523.3 L657.6,524.5 L659.1,525.7 L660.6,527.0 L662.1,528.2 L663.6,529.4 L665.1,530.6 L666.6,531.7 L668.1,532.7 L669.6,533.7 L671.1,534.6 L672.6,535.5 L674.1,536.4 L675.6,537.2 L677.1,538.1 L678.6,538.9 L680.1,539.7 L681.6,540.4 L683.1,541.2 L684.6,541.9 L686.1,542.6 L687.6,543.2 L689.1,543.9 L690.6,544.5 L692.1,545.0 L693.6,545.6 L695.1,546.0 L696.6,546.5 L698.1,546.9 L699.6,547.2 L701.1,547.5 L702.6,547.8 L704.1,548.1 L705.6,548.4 L707.1,548.6 L708.6,548.8 L710.1,549.0 L711.6,549.2 L713.1,549.4 L714.6,549.6 L716.1,549.7 L717.6,549.8 L719.1,549.9 L720.6,550.0 L722.1,550.1 L723.6,550.2 L725.1,550.3 L726.6,550.3 L728.1,550.4 L729.6,550.4 L731.1,550.4 L732.6,550.4 L734.1,550.4 L735.6,550.4 L737.1,550.4 L738.6,550.4 L740.1,550.4 L741.6,550.4 L743.1,550.4 L744.6,550.4 L746.1,550.4 L747.6,550.4 L749.1,550.4 L750.6,550.4 L752.1,550.4 L753.6,550.4 L755.1,550.4 L756.6,550.4 L758.1,550.4 L759.6,550.4 L761.1,550.4 L762.6,550.4 L764.1,550.4 L765.6,550.4 L767.1,550.4 L768.6,550.4 L770.1,550.4 L771.6,550.4 L773.1,550.4 L774.6,550.4 L776.1,550.4 L777.6,550.4 L779.1,550.4 L780.6,550.4 L782.1,550.4 L783.6,550.4 L785.1,550.4 L786.6,550.4 L788.1,550.4 L789.6,550.4 L791.1,550.4" stroke="#ff8000" stroke-width="2.4" stroke-linecap="round"/>
<path d="M128.1,550.4 L129.6,550.4 L131.1,550.4 L132.6,550.4 L134.1,550.4 L135.6,550.4 L137.1,550.4 L138.6,550.4 L140.1,550.4 L141.6,550.4 L143.1,550.4 L144.6,550.4 L146.1,550.4 L147.6,550.4 L149.1,550.4 L150.6,550.4 L152.1,550.4 L153.6,550.4 L155.1,550.4 L156.6,550.4 L158.1,550.4 L159.6,550.4 L161.1,550.4 L162.6,550.4 L164.1,550.4 L165.6,550.4 L167.1,550.4 L168.6,550.4 L170.1,550.4 L171.6,550.4 L173.1,550.4 L174.6,550.4 L176.1,550.4 L177.6,550.4 L179.1,550.4 L180.6,550.4 L182.1,550.4 L183.6,550.4 L185.1,550.4 L186.6,550.4 L188.1,550.4 L189.6,550.4 L191.1,550.4 L192.6,550.4 L194.1,550.4 L195.6,550.3 L197.1,550.3 L198.6,550.2 L200.1,550.1 L201.6,549.9 L203.1,549.7 L204.6,549.5 L206.1,549.2 L207.6,548.8 L209.1,548.4 L210.6,547.9 L212.1,547.3 L213.6,546.7 L215.1,546.0 L216.6,545.2 L218.1,544.5 L219.6,543.6 L221.1,542.8 L222.6,541.8 L224.1,540.8 L225.6,539.7 L227.1,538.5 L228.6,537.3 L230.1,536.0 L231.6,534.7 L233.1,533.2 L234.6,531.7 L236.1,530.1 L237.6,528.5 L239.1,526.9 L240.6,525.2 L242.1,523.5 L243.6,521.7 L245.1,519.8 L246.6,518.0 L248.1,516.1 L249.6,514.2 L251.1,512.3 L252.6,510.4 L254.1,508.4 L255.6,506.5 L257.1,504.5 L258.6,502.5 L260.1,500.6 L261.6,498.6 L263.1,496.7 L264.6,494.7 L266.1,492.8 L267.6,490.8 L269.1,488.9 L270.6,486.9 L272.1,484.9 L273.6,483.0 L275.1,481.0 L276.6,479.1 L278.1,477.1 L279.6,475.3 L281.1,473.4 L282.6,471.5 L284.1,469.7 L285.6,467.9 L287.1,466.1 L288.6,464.5 L290.1,462.9 L291.6,461.3 L293.1,459.9 L294.6,458.4 L296.1,456.9 L297.6,455.5 L299.1,454.0 L300.6,452.6 L302.1,451.2 L303.6,449.8 L305.1,448.4 L306.6,447.1 L308.1,445.7 L309.6,444.4 L311.1,443.2 L312.6,441.9 L314.1,440.7 L315.6,439.6 L317.1,438.4 L318.6,437.3 L320.1,436.3 L321.6,435.3 L323.1,434.3 L324.6,433.3 L326.1,432.3 L327.6,431.3 L329.1,430.4 L330.6,429.5 L332.1,428.6 L333.6,427.8 L335.1,427.0 L336.6,426.2 L338.1,425.5 L339.6,424.8 L341.1,424.2 L342.6,423.6 L344.1,423.0 L345.6,422.4 L347.1,421.7 L348.6,421.2 L350.1,420.6 L351.6,420.1 L353.1,419.6 L354.6,419.1 L356.1,418.7 L357.6,418.4 L359.1,418.1 L360.6,417.8 L362.1,417.5 L363.6,417.2 L365.1,417.0 L366.6,416.7 L368.1,416.5 L369.6,416.2 L371.1,416.0 L372.6,415.7 L374.1,415.5 L375.6,415.3 L377.1,415.2 L378.6,415.0 L380.1,414.9 L381.6,414.7 L383.1,414.6 L384.6,414.4 L386.1,414.3 L387.6,414.2 L389.1,414.0 L390.6,413.9 L392.1,413.8 L393.6,413.7 L395.1,413.6 L396.6,413.5 L398.1,413.5 L399.6,413.4 L401.1,413.4 L402.6,413.4 L404.1,413.3 L405.6,413.3 L407.1,413.3 L408.6,413.2 L410.1,413.2 L411.6,413.2 L413.1,413.2 L414.6,413.2 L416.1,413.2 L417.6,413.2 L419.1,413.2 L420.6,413.2 L422.1,413.2 L423.6,413.2 L425.1,413.2 L426.6,413.2 L428.1,413.3 L429.6,413.3 L431.1,413.3 L432.6,413.3 L434.1,413.3 L435.6,413.3 L437.1,413.3 L438.6,413.4 L440.1,413.4 L441.6,413.4 L443.1,413.5 L444.6,413.5 L446.1,413.6 L447.6,413.6 L449.1,413.7 L450.6,413.7 L452.1,413.7 L453.6,413.8 L455.1,413.8 L456.6,413.9 L458.1,413.9 L459.6,414.0 L461.1,414.0 L462.6,414.1 L464.1,414.1 L465.6,414.2 L467.1,414.2 L468.6,414.3 L470.1,414.3 L471.6,414.4 L473.1,414.5 L474.6,414.5 L476.1,414.6 L477.6,414.6 L479.1,414.7 L480.6,414.7 L482.1,414.8 L483.6,414.9 L485.1,414.9 L486.6,415.0 L488.1,415.1 L489.6,415.1 L491.1,415.2 L492.6,415.2 L494.1,415.3 L495.6,415.4 L497.1,415.4 L498.6,415.5 L500.1,415.6 L501.6,415.6 L503.1,415.7 L504.6,415.8 L506.1,415.8 L507.6,415.9 L509.1,416.0 L510.6,416.1 L512.1,416.2 L513.6,416.2 L515.1,416.3 L516.6,416.4 L518.1,416.5 L519.6,416.6 L521.1,416.6 L522.6,416.7 L524.1,416.8 L525.6,416.9 L527.1,416.9 L528.6,417.0 L530.1,417.1 L531.6,417.1 L533.1,417.2 L534.6,417.2 L536.1,417.3 L537.6,417.3 L539.1,417.4 L540.6,417.4 L542.1,417.4 L543.6,417.4 L545.1,417.5 L546.6,417.5 L548.1,417.5 L549.6,417.5 L551.1,417.5 L552.6,417.6 L554.1,417.6 L555.6,417.6 L557.1,417.6 L558.6,417.6 L560.1,417.6 L561.6,417.6 L563.1,417.6 L564.6,417.6 L566.1,417.5 L567.6,417.5 L569.1,417.4 L570.6,417.4 L572.1,417.3 L573.6,417.3 L575.1,417.2 L576.6,417.1 L578.1,417.1 L579.6,417.0 L581.1,417.0 L582.6,417.0 L584.1,416.9 L585.6,416.9 L587.1,416.8 L588.6,416.8 L590.1,416.8 L591.6,416.7 L593.1,416.7 L594.6,416.7 L596.1,416.6 L597.6,416.6 L599.1,416.6 L600.6,416.6 L602.1,416.6 L603.6,416.7 L605.1,416.7 L606.6,416.8 L608.1,417.0 L609.6,417.2 L611.1,417.5 L612.6,417.9 L614.1,418.3 L615.6,418.8 L617.1,419.3 L618.6,419.9 L620.1,420.4 L621.6,421.0 L623.1,421.6 L624.6,422.3 L626.1,423.0 L627.6,423.9 L629.1,425.0 L630.6,426.3 L632.1,427.7 L633.6,429.2 L635.1,430.9 L636.6,432.6 L638.1,434.4 L639.6,436.4 L641.1,438.6 L642.6,440.9 L644.1,443.3 L645.6,445.7 L647.1,448.2 L648.6,450.7 L650.1,453.3 L651.6,456.0 L653.1,458.7 L654.6,461.5 L656.1,464.3 L657.6,467.2 L659.1,470.1 L660.6,473.1 L662.1,476.1 L663.6,479.1 L665.1,482.2 L666.6,485.2 L668.1,488.2 L669.6,491.3 L671.1,494.4 L672.6,497.4 L674.1,500.4 L675.6,503.3 L677.1,506.2 L678.6,508.9 L680.1,511.6 L681.6,514.2 L683.1,516.8 L684.6,519.3 L686.1,521.6 L687.6,523.9 L689.1,526.0 L690.6,528.2 L692.1,530.2 L693.6,532.1 L695.1,533.9 L696.6,535.5 L698.1,537.0 L699.6,538.4 L701.1,539.7 L702.6,540.9 L704.1,542.1 L705.6,543.1 L707.1,544.0 L708.6,544.9 L710.1,545.7 L711.6,546.5 L713.1,547.2 L714.6,547.8 L716.1,548.3 L717.6,548.7 L719.1,549.1 L720.6,549.4 L722.1,549.7 L723.6,549.9 L725.1,550.0 L726.6,550.1 L728.1,550.1 L729.6,550.2 L731.1,550.2 L732.6,550.3 L734.1,550.3 L735.6,550.3 L737.1,550.4 L738.6,550.4 L740.1,550.4 L741.6,550.4 L743.1,550.4 L744.6,550.4 L746.1,550.4 L747.6,550.4 L749.1,550.4 L750.6,550.4 L752.1,550.4 L753.6,550.4 L755.1,550.4 L756.6,550.4 L758.1,550.4 L759.6,550.4 L761.1,550.4 L762.6,550.4 L764.1,550.4 L765.6,550.4 L767.1,550.4 L768.6,550.4 L770.1,550.4 L771.6,550.4 L773.1,550.4 L774.6,550.4 L776.1,550.4 L777.6,550.4 L779.1,550.4 L780.6,550.4 L782.1,550.4 L783.6,550.4 L785.1,550.4 L786.6,550.4 L788.1,550.4 L789.6,550.4 L791.1,550.4" stroke="#ff00ff" stroke-width="2.4" stroke-dasharray="7.55 12.33" stroke-dashoffset="10.1" stroke-linecap="round" stroke-opacity="0.5"/>
<path d="M128.1,550.4 L129.6,550.4 L131.1,550.4 L132.6,550.4 L134.1,550.4 L135.6,550.4 L137.1,550.4 L138.6,550.4 L140.1,550.4 L141.6,550.4 L143.1,550.4 L144.6,550.4 L146.1,550.4 L147.6,550.4 L149.1,550.4 L150.6,550.4 L152.1,550.4 L153.6,550.4 L155.1,550.4 L156.6,550.4 L158.1,550.4 L159.6,550.4 L161.1,550.4 L162.6,550.4 L164.1,550.4 L165.6,550.4 L167.1,550.4 L168.6,550.4 L170.1,550.4 L171.6,550.4 L173.1,550.4 L174.6,550.4 L176.1,550.4 L177.6,550.4 L179.1,550.4 L180.6,550.4 L182.1,550.4 L183.6,550.4 L185.1,550.4 L186.6,550.4 L188.1,550.4 L189.6,550.4 L191.1,550.4 L192.6,550.4 L194.1,550.4 L195.6,550.4 L197.1,550.4 L198.6,550.4 L200.1,550.4 L201.6,550.4 L203.1,550.4 L204.6,550.4 L206.1,550.4 L207.6,550.4 L209.1,550.4 L210.6,550.4 L212.1,550.4 L213.6,550.4 L215.1,550.4 L216.6,550.4 L218.1,550.4 L219.6,550.4 L221.1,550.4 L222.6,550.4 L224.1,550.4 L225.6,550.4 L227.1,550.4 L228.6,550.4 L230.1,550.4 L231.6,550.4 L233.1,550.4 L234.6,550.4 L236.1,550.3 L237.6,550.3 L239.1,550.2 L240.6,550.2 L242.1,550.1 L243.6,550.0 L245.1,549.9 L246.6,549.8 L248.1,549.7 L249.6,549.6 L251.1,549.5 L252.6,549.3 L254.1,549.0 L255.6,548.7 L257.1,548.4 L258.6,548.1 L260.1,547.8 L261.6,547.5 L263.1,547.2 L264.6,546.9 L266.1,546.6 L267.6,546.3 L269.1,546.0 L270.6,545.6 L272.1,545.2 L273.6,544.7 L275.1,544.3 L276.6,543.8 L278.1,543.3 L279.6,542.8 L281.1,542.3 L282.6,541.7 L284.1,541.2 L285.6,540.6 L287.1,539.9 L288.6,539.3 L290.1,538.6 L291.6,537.8 L293.1,537.0 L294.6,536.2 L296.1,535.3 L297.6,534.3 L299.1,533.3 L300.6,532.2 L302.1,531.1 L303.6,530.0 L305.1,528.9 L306.6,527.9 L308.1,526.9 L309.6,525.9 L311.1,524.9 L312.6,524.0 L314.1,523.1 L315.6,522.2 L317.1,521.3 L318.6,520.4 L320.1,519.6 L321.6,518.8 L323.1,518.0 L324.6,517.2 L326.1,516.5 L327.6,515.8 L329.1,515.1 L330.6,514.4 L332.1,513.7 L333.6,513.1 L335.1,512.5 L336.6,511.8 L338.1,511.2 L339.6,510.6 L341.1,510.0 L342.6,509.4 L344.1,508.9 L345.6,508.3 L347.1,507.7 L348.6,507.1 L350.1,506.5 L351.6,505.9 L353.1,505.3 L354.6,504.7 L356.1,504.0 L357.6,503.3 L359.1,502.6 L360.6,501.9 L362.1,501.1 L363.6,500.3 L365.1,499.4 L366.6,498.4 L368.1,497.4 L369.6,496.2 L371.1,495.0 L372.6,493.7 L374.1,492.3 L375.6,490.9 L377.1,489.3 L378.6,487.7 L380.1,485.9 L381.6,484.0 L383.1,482.1 L384.6,480.0 L386.1,477.8 L387.6,475.5 L389.1,473.1 L390.6,470.5 L392.1,467.9 L393.6,465.2 L395.1,462.4 L396.6,459.6 L398.1,456.7 L399.6,453.7 L401.1,450.7 L402.6,447.7 L404.1,444.8 L405.6,442.0 L407.1,439.3 L408.6,436.5 L410.1,433.8 L411.6,431.2 L413.1,428.6 L414.6,426.0 L416.1,423.1 L417.6,419.3 L419.1,414.5 L420.6,409.7 L422.1,405.4 L423.6,401.4 L425.1,397.7 L426.6,393.9 L428.1,389.9 L429.6,385.4 L431.1,380.6 L432.6,375.7 L434.1,371.0 L435.6,366.5 L437.1,362.0 L438.6,357.4 L440.1,352.5 L441.6,347.0 L443.1,340.9 L444.6,334.7 L446.1,328.8 L447.6,323.1 L449.1,317.7 L450.6,312.6 L452.1,307.9 L453.6,303.8 L455.1,299.9 L456.6,295.9 L458.1,291.7 L459.6,287.3 L461.1,282.7 L462.6,278.2 L464.1,273.8 L465.6,269.4 L467.1,265.2 L468.6,261.1 L470.1,257.1 L471.6,253.2 L473.1,249.5 L474.6,246.0 L476.1,242.6 L477.6,239.4 L479.1,236.4 L480.6,233.8 L482.1,231.5 L483.6,229.5 L485.1,227.8 L486.6,226.4 L488.1,225.3 L489.6,224.5 L491.1,223.7 L492.6,223.2 L494.1,222.7 L495.6,222.4 L497.1,222.1 L498.6,222.1 L500.1,222.3 L501.6,222.6 L503.1,223.1 L504.6,223.8 L506.1,224.9 L507.6,226.3 L509.1,228.0 L510.6,229.8 L512.1,231.9 L513.6,234.1 L515.1,236.5 L516.6,239.1 L518.1,241.7 L519.6,244.5 L521.1,247.3 L522.6,250.2 L524.1,253.1 L525.6,256.1 L527.1,259.1 L528.6,262.4 L530.1,265.8 L531.6,269.3 L533.1,272.9 L534.6,276.4 L536.1,279.9 L537.6,283.4 L539.1,286.9 L540.6,290.4 L542.1,293.9 L543.6,298.0 L545.1,302.7 L546.6,307.8 L548.1,312.9 L549.6,317.7 L551.1,322.2 L552.6,326.5 L554.1,330.7 L555.6,335.0 L557.1,339.4 L558.6,343.9 L560.1,348.6 L561.6,353.3 L563.1,358.1 L564.6,362.7 L566.1,367.3 L567.6,371.9 L569.1,376.4 L570.6,380.8 L572.1,385.3 L573.6,389.8 L575.1,394.4 L576.6,399.0 L578.1,403.5 L579.6,407.9 L581.1,412.2 L582.6,416.3 L584.1,420.3 L585.6,424.2 L587.1,428.1 L588.6,431.8 L590.1,435.6 L591.6,439.4 L593.1,443.3 L594.6,447.4 L596.1,451.6 L597.6,455.8 L599.1,460.0 L600.6,463.9 L602.1,467.6 L603.6,471.1 L605.1,474.5 L606.6,477.8 L608.1,481.1 L609.6,484.2 L611.1,487.4 L612.6,490.4 L614.1,493.4 L615.6,496.3 L617.1,499.2 L618.6,501.9 L620.1,504.6 L621.6,507.2 L623.1,509.7 L624.6,512.2 L626.1,514.6 L627.6,516.9 L629.1,519.1 L630.6,521.2 L632.1,523.2 L633.6,525.2 L635.1,527.1 L636.6,529.0 L638.1,530.8 L639.6,532.5 L641.1,534.1 L642.6,535.6 L644.1,536.9 L645.6,538.2 L647.1,539.3 L648.6,540.4 L650.1,541.4 L651.6,542.3 L653.1,543.2 L654.6,544.0 L656.1,544.8 L657.6,545.4 L659.1,546.0 L660.6,546.5 L662.1,546.9 L663.6,547.3 L665.1,547.6 L666.6,547.9 L668.1,548.2 L669.6,548.4 L671.1,548.7 L672.6,548.9 L674.1,549.1 L675.6,549.3 L677.1,549.4 L678.6,549.6 L680.1,549.7 L681.6,549.8 L683.1,549.8 L684.6,549.9 L686.1,550.0 L687.6,550.1 L689.1,550.1 L690.6,550.2 L692.1,550.2 L693.6,550.3 L695.1,550.3 L696.6,550.4 L698.1,550.4 L699.6,550.4 L701.1,550.4 L702.6,550.4 L704.1,550.4 L705.6,550.4 L707.1,550.4 L708.6,550.4 L710.1,550.4 L711.6,550.4 L713.1,550.4 L714.6,550.4 L716.1,550.4 L717.6,550.4 L719.1,550.4 L720.6,550.4 L722.1,550.4 L723.6,550.4 L725.1,550.4 L726.6,550.4 L728.1,550.4 L729.6,550.4 L731.1,550.4 L732.6,550.4 L734.1,550.4 L735.6,550.4 L737.1,550.4 L738.6,550.4 L740.1,550.4 L741.6,550.4 L743.1,550.4 L744.6,550.4 L746.1,550.4 L747.6,550.4 L749.1,550.4 L750.6,550.4 L752.1,550.4 L753.6,550.4 L755.1,550.4 L756.6,550.4 L758.1,550.4 L759.6,550.4 L761.1,550.4 L762.6,550.4 L764.1,550.4 L765.6,550.4 L767.1,550.4 L768.6,550.4 L770.1,550.4 L771.6,550.4 L773.1,550.4 L774.6,550.4 L776.1,550.4 L777.6,550.4 L779.1,550.4 L780.6,550.4 L782.1,550.4 L783.6,550.4 L785.1,550.4 L786.6,550.4 L788.1,550.4 L789.6,550.4 L791.1,550.4" stroke="#0000ff" stroke-width="2.4" stroke-dasharray="7.3 6.7 1.0 7.1 1.0 7.1" stroke-dashoffset="20.7" stroke-linecap="round"/>
</g>
<g fill="none">
<path d="M556.4,60.6 H604.6" stroke="#ff0000" stroke-width="2.6" stroke-linecap="round"/>
<path d="M556.4,116.5 H604.6" stroke="#ff0000" stroke-width="2.6" stroke-dasharray="7.55 12.33" stroke-linecap="round"/>
<path d="M556.4,172.3 H604.6" stroke="#ff0000" stroke-width="2.6" stroke-dasharray="7.3 6.7 1.0 7.1 1.0 7.1" stroke-linecap="round"/>
<path d="M556.4,228 H604.6" stroke="#0000ff" stroke-width="2.6" stroke-linecap="round"/>
<path d="M556.4,254.5 H604.6" stroke="#0000ff" stroke-width="2.6" stroke-dasharray="7.55 12.33" stroke-linecap="round"/>
<path d="M556.4,281.4 H604.6" stroke="#0000ff" stroke-width="2.6" stroke-dasharray="7.3 6.7 1.0 7.1 1.0 7.1" stroke-linecap="round"/>
<path d="M556.4,310.3 H604.6" stroke="#ff8000" stroke-width="2.6" stroke-linecap="round"/>
<path d="M556.4,337 H604.6" stroke="#ff00ff" stroke-width="2.6" stroke-dasharray="7.55 12.33" stroke-linecap="round" stroke-opacity="0.5"/>
</g>
<g font-family="Liberation Sans, sans-serif" fill="#000" style="font-kerning:none;text-rendering:geometricPrecision"><text x="118.3" y="557.3" font-size="19.4" text-anchor="end">0,00</text>
<text x="118.3" y="387.7" font-size="19.4" text-anchor="end">0,33</text>
<text x="118.3" y="218.1" font-size="19.4" text-anchor="end">0,66</text>
<text x="118.3" y="48.5" font-size="19.4" text-anchor="end">0,99</text>
<text x="179.2" y="575.3" font-size="19.4" text-anchor="middle">10</text>
<text x="281.3" y="575.3" font-size="19.4" text-anchor="middle">11</text>
<text x="383.5" y="575.3" font-size="19.4" text-anchor="middle">12</text>
<text x="485.6" y="575.3" font-size="19.4" text-anchor="middle">13</text>
<text x="587.8" y="575.3" font-size="19.4" text-anchor="middle">14</text>
<text x="689.9" y="575.3" font-size="19.4" text-anchor="middle">15</text>
<text x="792.1" y="575.3" font-size="19.4" text-anchor="middle">16</text>
<text x="148.6" y="70.0" font-size="23.5" text-anchor="start">(a)</text>
<text x="442.6" y="70.4" font-size="19.1" text-anchor="start" font-weight="bold">Prior set #1</text>
<text x="610.6" y="68.0" font-size="21.7" text-anchor="start">TD-LVC-2018</text>
<text x="610.0" y="97.0" font-size="21.7" text-anchor="start"><tspan dy="2.2">+</tspan><tspan dy="-2.2" dx="11.91">EFT</tspan><tspan dy="2.2">+</tspan><tspan dy="-2.2">GMR</tspan></text>
<text x="610.6" y="123.0" font-size="21.7" text-anchor="start">TD-De-2018</text>
<text x="610.0" y="152.6" font-size="21.7" text-anchor="start"><tspan dy="2.2">+</tspan><tspan dy="-2.2" dx="11.91">EFT</tspan><tspan dy="2.2">+</tspan><tspan dy="-2.2">GMR</tspan></text>
<text x="610.6" y="179.6" font-size="21.7" text-anchor="start">TD-Coughlin-2019</text>
<text x="610.0" y="208.6" font-size="21.7" text-anchor="start"><tspan dy="2.2">+</tspan><tspan dy="-2.2" dx="11.91">EFT</tspan><tspan dy="2.2">+</tspan><tspan dy="-2.2">GMR</tspan></text>
<text x="610.6" y="235.0" font-size="21.7" text-anchor="start">TD-LVC-2018</text>
<text x="610.6" y="261.6" font-size="21.7" text-anchor="start">TD-De-2018</text>
<text x="610.6" y="288.6" font-size="21.7" text-anchor="start">TD-Coughlin-2019</text>
<text x="622.5" y="317.4" font-size="21.7" text-anchor="start">EFT</text>
<text x="610.6" y="344.0" font-size="21.7" text-anchor="start">GMR</text>
<text x="460.0" y="611.1" font-size="23.3" text-anchor="middle">R<tspan font-size="20.3" dy="8.5" dx="1">1.4</tspan><tspan dy="-8.5"> (km)</tspan></text>
<text x="54.0" y="284.2" font-size="23.1" text-anchor="middle" transform="rotate(-90 54 284.2)">PDF</text></g><path d="M630.77,86.10 L632.87,86.10 L625.27,100.90 L623.17,100.70 Z" fill="#000"/><path d="M622.57,89.80 C622.87,87.60 623.77,86.40 624.87,86.40 C626.17,86.40 626.77,88.60 627.47,91.20 L629.87,99.10 C630.27,100.40 630.67,101.10 631.37,101.10 C632.57,101.10 633.27,99.80 633.57,97.80" fill="none" stroke="#000" stroke-width="1.35" stroke-linecap="round"/>
<path d="M630.77,141.70 L632.87,141.70 L625.27,156.50 L623.17,156.30 Z" fill="#000"/><path d="M622.57,145.40 C622.87,143.20 623.77,142.00 624.87,142.00 C626.17,142.00 626.77,144.20 627.47,146.80 L629.87,154.70 C630.27,156.00 630.67,156.70 631.37,156.70 C632.57,156.70 633.27,155.40 633.57,153.40" fill="none" stroke="#000" stroke-width="1.35" stroke-linecap="round"/>
<path d="M630.77,197.70 L632.87,197.70 L625.27,212.50 L623.17,212.30 Z" fill="#000"/><path d="M622.57,201.40 C622.87,199.20 623.77,198.00 624.87,198.00 C626.17,198.00 626.77,200.20 627.47,202.80 L629.87,210.70 C630.27,212.00 630.67,212.70 631.37,212.70 C632.57,212.70 633.27,211.40 633.57,209.40" fill="none" stroke="#000" stroke-width="1.35" stroke-linecap="round"/>
<path d="M618.70,306.50 L620.80,306.50 L613.20,321.30 L611.10,321.10 Z" fill="#000"/><path d="M610.50,310.20 C610.80,308.00 611.70,306.80 612.80,306.80 C614.10,306.80 614.70,309.00 615.40,311.60 L617.80,319.50 C618.20,320.80 618.60,321.50 619.30,321.50 C620.50,321.50 621.20,320.20 621.50,318.20" fill="none" stroke="#000" stroke-width="1.35" stroke-linecap="round"/>
</svg>

</div></body></html>
